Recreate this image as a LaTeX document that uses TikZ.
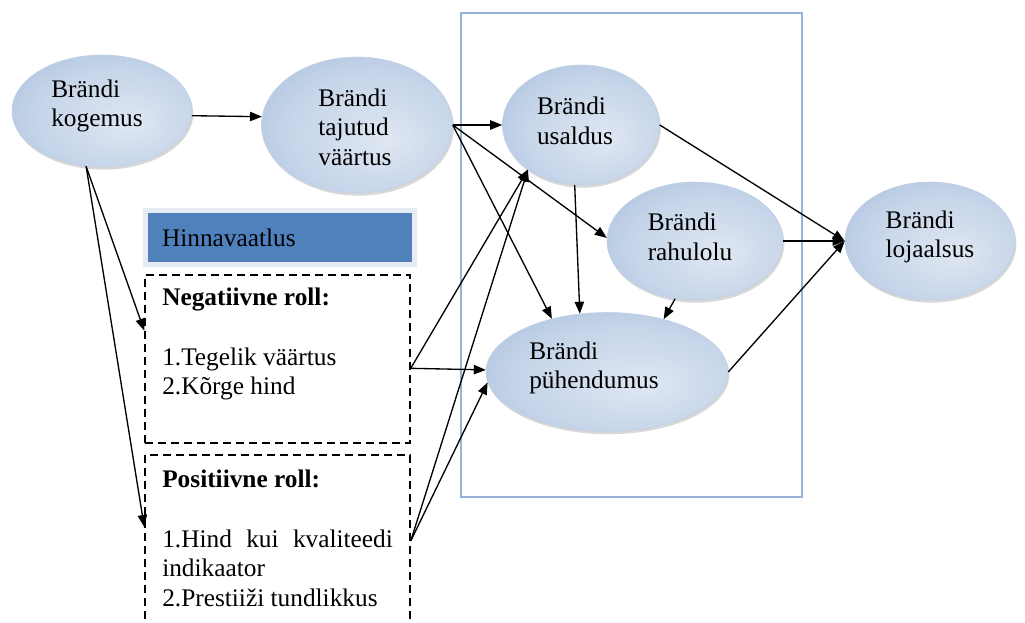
\documentclass[tikz,border=0pt]{standalone}
\usepackage{fontspec}
\setmainfont{Liberation Serif}
\usetikzlibrary{shapes,arrows.meta,positioning,calc,shadows}
\usepackage{xcolor}

\definecolor{bubblein}{HTML}{DFE7F2}
\definecolor{bubblemid}{HTML}{C6D5E9}
\definecolor{bubbleout}{HTML}{94AFD5}
\definecolor{hinnblue}{HTML}{4F81BD}
\definecolor{hinnrim}{HTML}{E6ECF4}
\definecolor{raamblue}{HTML}{95B3D7}
\pgfdeclareradialshading{bubbleshade}{\pgfpoint{8bp}{-6bp}}{color(0bp)=(bubblein); color(22bp)=(bubblemid); color(50bp)=(bubbleout)}

\begin{document}
\begin{tikzpicture}[x=0.75pt, y=-0.75pt, every node/.style={font=\fontsize{19}{22.2}\selectfont}]
    \tikzstyle{bubble} = [ellipse, inner sep=0pt, shade, shading=bubbleshade, draw=bubbleout!60!white, line width=0.4pt, drop shadow={shadow xshift=1pt, shadow yshift=-2pt, opacity=0.25, fill=black!60}]
    \tikzstyle{btext} = [align=left, inner sep=0pt]
    \tikzstyle{roll} = [rectangle, draw, line width=1.1pt, dash pattern=on 6pt off 3.75pt]
    \tikzstyle{rolltext} = [anchor=north west, text width=173pt, align=justify, inner sep=0pt]
    \tikzstyle{hinn} = [rectangle, fill=hinnblue, draw=hinnrim, line width=3.75pt, inner xsep=12.4pt, align=left, drop shadow={shadow xshift=1.5pt, shadow yshift=-1.5pt, opacity=0.35, fill=black!50}]
    \tikzstyle{raam} = [rectangle, draw=raamblue, line width=1pt]
    \tikzstyle{link} = [line width=1pt, -{Triangle[length=9pt,width=7pt]}]

    \path[use as bounding box, fill=white] (0,0) rectangle (1025,623);

    % Raam
    \node[raam, minimum width=255.75pt, minimum height=363pt] (raam) at (631.5,255) {};

    % Ellipsid
    \node[bubble, minimum width=135pt, minimum height=84pt] (kog) at (102,111) {};
    \node[btext] (kogt) at (97,106) {Brändi\\kogemus};
    \node[bubble, minimum width=143.25pt, minimum height=102pt] (taj) at (357,125) {};
    \node[btext] (tajt) at (355,127) {Brändi\\tajutud\\väärtus};
    \node[bubble, minimum width=117.75pt, minimum height=90pt] (usa) at (581,125) {};
    \node[btext] (usat) at (575,121) {Brändi\\usaldus};
    \node[bubble, minimum width=132pt, minimum height=88.5pt] (rah) at (695,241) {};
    \node[btext] (raht) at (690,237) {Brändi\\rahulolu};
    \node[bubble, minimum width=127.5pt, minimum height=88.5pt] (loj) at (930,241) {};
    \node[btext] (lojt) at (930,237) {Brändi\\lojaalsus};
    \node[bubble, minimum width=181.5pt, minimum height=89.25pt] (pyh) at (607,372) {};
    \node[btext] (pyht) at (594,368) {Brändi\\pühendumus};

    % Hinnavaatlus
    \node[hinn, minimum width=201.75pt, minimum height=40.5pt, text width=177pt] (hinn) at (280,237.5) {Hinnavaatlus};
    \node[roll, minimum width=198.75pt, minimum height=126pt] (neg) at (277.5,359) {};
    \node[rolltext] (negt) at (162,288) {\textbf{Negatiivne roll:}\\[22.2pt]1.Tegelik väärtus\\2.Kõrge hind};
    \node[roll, minimum width=198.75pt, minimum height=129pt] (pos) at (277.5,541) {};
    \node[rolltext] (post) at (162,470) {\textbf{Positiivne roll:}\\[22.2pt]1.Hind kui kvaliteedi\linebreak indikaator\\2.Prestiiži tundlikkus};

    % Seosed
    \draw[link] (kog.-3) -- (taj.175);
    \draw[link] (kog.-106) -- (neg.168);
    \draw[link] (kog.-106) -- (pos.174);

    \draw[link] (taj.east) -- (usa.west);
    \draw[link] (taj.east) -- (rah.178);
    \draw[link] (taj.east) -- (pyh.136);

    \draw[link] (neg.-4) -- (usa.-140);
    \draw[link] (neg.-4) -- (pyh.179);
    \draw[link] (pos.east) -- (usa.-140);
    \draw[link] (pos.east) -- (pyh.-175);

    \draw[link] (usa.-96) -- (pyh.115);
    \draw[link] (rah.-109) -- (pyh.43);

    \draw[link] (usa.east) -- (loj.west);
    \draw[link] (rah.east) -- (loj.west);
    \draw[link] (pyh.east) -- (loj.west);
\end{tikzpicture}
\end{document}
